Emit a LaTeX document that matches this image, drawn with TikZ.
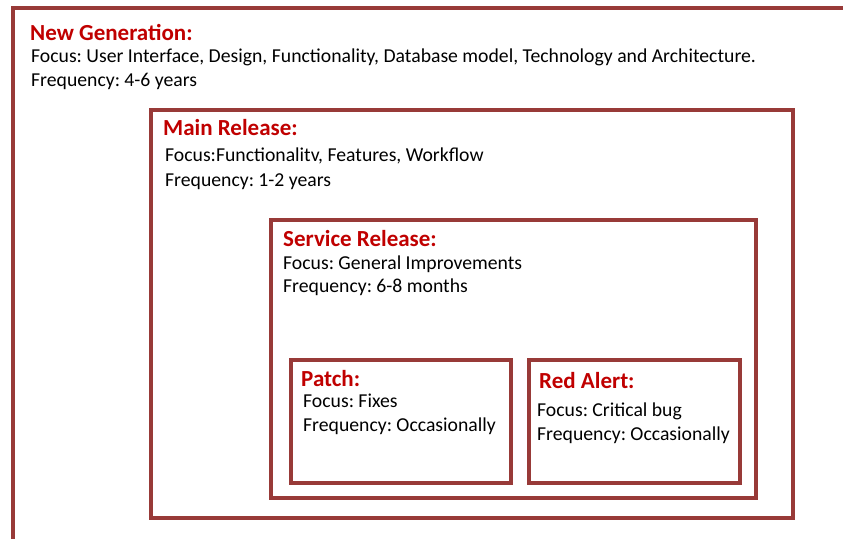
\documentclass[tikz,border=0pt]{standalone}
\usepackage{fontspec}
\setmainfont{Carlito}
\usepackage{tikz}
\usepackage{xcolor}
\definecolor{boxcol}{RGB}{152,58,56}
\definecolor{titlecol}{RGB}{192,0,0}
\tikzstyle{relbox}=[draw=boxcol,line width=3.3pt]
\tikzstyle{title}=[anchor=base west,inner sep=0pt,color=titlecol,font=\fontsize{23}{26}\selectfont\bfseries]
\tikzstyle{info}=[anchor=base west,inner sep=0pt,font=\fontsize{19.7}{24}\selectfont]
\frenchspacing

\begin{document}
\begin{tikzpicture}[x=1pt,y=-1pt]
  \clip (0,0) rectangle (843,538);
  \fill[white] (0,0) rectangle (843,538);

  % outer level, runs off the page on the right and bottom
  \draw[relbox] (13,560) -- (13,8) -- (870,8);
  \node[title] (ngTitle) at (30,40) {New Generation:};
  \node[info] (ngFocus) at (31,62) {Focus: User Interface, Design, Functionality, Database model, Technology and Architecture.};
  \node[info] (ngFreq) at (31,86) {Frequency: 4-6 years};

  % main release
  \draw[relbox] (151,110) rectangle (793,518);
  \node[title] (mrTitle) at (163,135) {Main Release:};
  \node[info] (mrFocus) at (165,161) {Focus:Functionalitv, Features, Workflow};
  \node[info] (mrFreq) at (165,186) {Frequency: 1-2 years};

  % service release
  \draw[relbox] (271,220) rectangle (756,498);
  \node[title] (srTitle) at (283,246) {Service Release:};
  \node[info] (srFocus) at (283,269) {Focus: General Improvements};
  \node[info] (srFreq) at (283,292) {Frequency: 6-8 months};

  % patch
  \draw[relbox] (291,360) rectangle (511,483);
  \node[title] (ptTitle) at (301,386) {Patch:};
  \node[info] (ptFocus) at (303,407) {Focus: Fixes};
  \node[info] (ptFreq) at (303,431) {Frequency: Occasionally};

  % red alert
  \draw[relbox] (529,360) rectangle (740,483);
  \node[title] (raTitle) at (539,388) {Red Alert:};
  \node[info] (raFocus) at (537,416) {Focus: Critical bug};
  \node[info] (raFreq) at (537,440) {Frequency: Occasionally};
\end{tikzpicture}
\end{document}
